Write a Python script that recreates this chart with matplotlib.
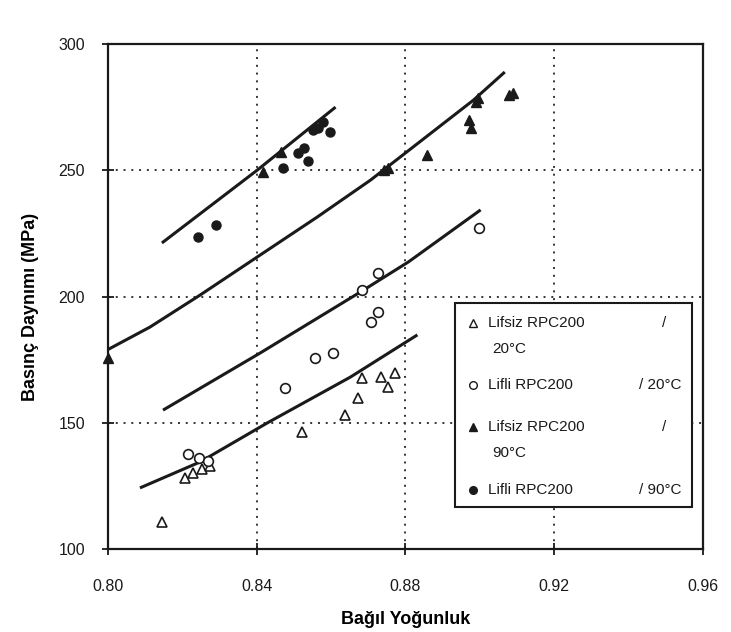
import matplotlib
matplotlib.use("Agg")
import matplotlib.pyplot as plt
from matplotlib.patches import Rectangle
from matplotlib.lines import Line2D

plt.rcParams['font.family'] = ['Liberation Sans', 'DejaVu Sans']

# --- data ---
# Lifsiz RPC200 / 20°C (open triangles)
lifsiz20_x = [0.8145, 0.8207, 0.8229, 0.8253, 0.8275, 0.8523, 0.8638, 0.8671,
              0.8684, 0.8733, 0.8754, 0.8773]
lifsiz20_y = [110.7, 128.0, 130.0, 131.5, 133.0, 146.3, 153.1, 159.8,
              167.7, 168.1, 164.2, 169.7]
# Lifli RPC200 / 20°C (open circles)
lifli20_x = [0.8216, 0.8245, 0.8270, 0.8477, 0.8558, 0.8606, 0.8684, 0.8706,
             0.8725, 0.8727, 0.8997]
lifli20_y = [137.5, 136.0, 135.0, 163.8, 175.6, 177.6, 202.6, 189.9,
             193.9, 209.3, 227.1]
# Lifsiz RPC200 / 90°C (filled triangles)
lifsiz90_x = [0.8000, 0.8418, 0.8466, 0.8741, 0.8754, 0.8859, 0.8970, 0.8975,
              0.8989, 0.8994, 0.9078, 0.9088]
lifsiz90_y = [175.6, 249.3, 257.2, 250.1, 250.9, 256.0, 269.9, 266.7,
              277.0, 278.6, 279.8, 280.6]
# Lifli RPC200 / 90°C (filled circles)
lifli90_x = [0.8242, 0.8291, 0.8471, 0.8512, 0.8528, 0.8539, 0.8552, 0.8566,
             0.8577, 0.8598]
lifli90_y = [223.6, 228.3, 250.9, 256.8, 258.8, 253.7, 265.9, 266.7,
             269.1, 265.1]

# trend curves
fit_lifsiz20_x = [0.8086, 0.8248, 0.8428, 0.8652, 0.8832]
fit_lifsiz20_y = [124.2, 134.5, 149.9, 168.1, 184.8]
fit_lifli20_x = [0.8148, 0.8409, 0.8679, 0.8808, 0.9002]
fit_lifli20_y = [155.0, 177.6, 201.8, 213.7, 234.3]
fit_lifsiz90_x = [0.8000, 0.8113, 0.8248, 0.8409, 0.8563, 0.8706, 0.8983, 0.9067]
fit_lifsiz90_y = [179.0, 187.9, 200.6, 216.4, 231.5, 246.1, 277.8, 288.9]
fit_lifli90_x = [0.8145, 0.8401, 0.8612]
fit_lifli90_y = [221.2, 250.0, 275.0]

xticks = [0.80, 0.84, 0.88, 0.92, 0.96]
xtick_labels = ['0.80', '0.84', '0.88', '0.92', '0.96']
yticks = [100, 150, 200, 250, 300]
legend_names = ['Lifsiz RPC200', 'Lifli RPC200', 'Lifsiz RPC200', 'Lifli RPC200']
legend_temps = ['20°C', '20°C', '90°C', '90°C']

ink = '#1a1a1a'

fig = plt.figure(figsize=(7.31, 6.32), dpi=100)
ax = fig.add_axes([0.1477, 0.1313, 0.8140, 0.7991])

for g in [0.84, 0.88, 0.92]:
    ax.axvline(g, color='#333333', lw=1.4, ls=(0, (1, 3)), zorder=1)
for g in [150, 200, 250]:
    ax.axhline(g, color='#333333', lw=1.4, ls=(0, (1, 3)), zorder=1)

for fx, fy in [(fit_lifsiz20_x, fit_lifsiz20_y), (fit_lifli20_x, fit_lifli20_y),
               (fit_lifsiz90_x, fit_lifsiz90_y), (fit_lifli90_x, fit_lifli90_y)]:
    ax.plot(fx, fy, color=ink, lw=2.2, solid_capstyle='butt',
            solid_joinstyle='round', zorder=3)

ax.plot(lifsiz20_x, lifsiz20_y, ls='none', marker='^', ms=7, mfc='white',
        mec=ink, mew=1.2, zorder=4)
ax.plot(lifli20_x, lifli20_y, ls='none', marker='o', ms=7, mfc='white',
        mec=ink, mew=1.2, zorder=4)
ax.plot(lifsiz90_x, lifsiz90_y, ls='none', marker='^', ms=7, color=ink,
        clip_on=False, zorder=4)
ax.plot(lifli90_x, lifli90_y, ls='none', marker='o', ms=6.5, color=ink, zorder=4)

ax.set_xlim(0.80, 0.96)
ax.set_ylim(100, 300)
ax.set_xticks(xticks)
ax.set_xticklabels(xtick_labels)
ax.set_yticks(yticks)
for s in ax.spines.values():
    s.set_linewidth(1.6)
    s.set_color(ink)
ax.tick_params(axis='both', direction='inout', length=9, width=1.3, color=ink,
               labelsize=11.5, labelcolor=ink)
ax.tick_params(axis='x', pad=17)
ax.tick_params(axis='y', pad=12)

ax.set_xlabel('Bağıl Yoğunluk', fontsize=13, fontweight='bold',
              family=['Liberation Sans Narrow', 'Liberation Sans'], labelpad=12)
fig.text(0.042, 0.515, 'Basınç Daynımı (MPa)', rotation=90, fontsize=13,
         fontweight='bold', ha='center', va='center',
         family=['Liberation Sans Narrow', 'Liberation Sans'])

# legend box drawn by hand to follow the original layout
fig.add_artist(Rectangle((0.6224, 0.1978), 0.3242, 0.3228, transform=fig.transFigure,
                         facecolor='white', edgecolor=ink, lw=1.5, zorder=5))
marker_styles = [('^', 'white'), ('o', 'white'), ('^', ink), ('o', ink)]
name_y = [0.4889, 0.3908, 0.3244, 0.2247]
for i, (m, fc) in enumerate(marker_styles):
    fig.add_artist(Line2D([0.647], [name_y[i]], transform=fig.transFigure, ls='none',
                          marker=m, ms=5.5, mfc=fc, mec=ink, mew=1.0, zorder=6))
    fig.text(0.6676, name_y[i], legend_names[i], fontsize=11, va='center',
             color=ink, zorder=6)
    if i % 2 == 0:
        fig.text(0.9056, name_y[i], '/', fontsize=11, va='center', color=ink, zorder=6)
        fig.text(0.673, name_y[i] - 0.0405, legend_temps[i], fontsize=11,
                 va='center', color=ink, zorder=6)
    else:
        fig.text(0.932, name_y[i], '/ ' + legend_temps[i], fontsize=11, va='center',
                 ha='right', color=ink, zorder=6)

fig.savefig('out.png', dpi=100)
